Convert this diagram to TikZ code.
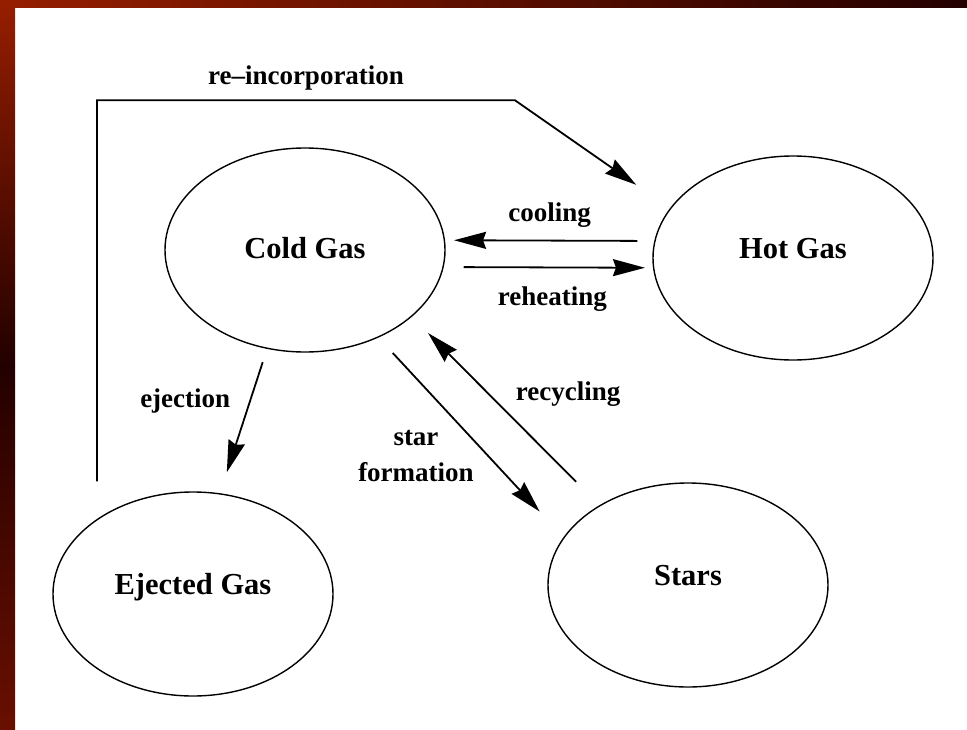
\documentclass[tikz,border=0pt]{standalone}
\usepackage{fontspec}
\setmainfont{Liberation Serif}
\usetikzlibrary{arrows.meta,positioning,shapes.geometric}
\definecolor{rimhi}{RGB}{150,30,0}
\definecolor{rimlo}{RGB}{35,0,0}
\definecolor{rimmd}{RGB}{105,15,0}

\begin{document}
\begin{tikzpicture}[
 x=1pt, y=-1pt, >={Stealth[length=32pt,width=17pt,inset=3pt]},
 state/.style={draw, ellipse, minimum width=280pt, minimum height=204pt, inner sep=0pt,
   text height=20pt, text depth=20pt, line width=1.4pt, font=\fontsize{30.5}{34}\selectfont\bfseries},
 lbl/.style={inner sep=0pt, align=center, font=\fontsize{27}{36}\selectfont\bfseries},
 flow/.style={->, line width=1.8pt}]
\useasboundingbox (0,0) rectangle (967,729);
\fill[top color=rimhi, bottom color=rimmd, middle color=rimlo] (0,0) rectangle (15,729);
\fill[left color=rimhi, right color=rimlo] (0,0) rectangle (967,7);

\node[state, text depth=4pt] (cold) at (305,250) {Cold Gas};
\node[state] (hot) at (793,258) {Hot Gas};
\node[state] (ejected) at (193,594) {Ejected Gas};
\node[state] (stars) at (688,585) {Stars};

\draw[flow, shorten <=17pt, shorten >=9pt] (hot.173) -- node[lbl, midway, above=12pt] (lcool) {cooling} (cold.4);
\draw[flow, shorten <=20pt, shorten >=8pt] (cold.-7) -- node[lbl, midway, below=18pt, xshift=4pt] (lreheat) {reheating} (hot.184);
\draw[flow, shorten <=21pt, shorten >=35pt] (cold.-50) -- node[lbl, pos=.59, left=13pt, yshift=-1pt] (lstar) {star\\formation} (stars.159);
\draw[flow, shorten <=33pt, shorten >=23pt] (stars.138.5) -- node[lbl, pos=.6, right=28pt, yshift=-2pt] (lrecyc) {recycling} (cold.-32);
\draw[flow, shorten <=14pt, shorten >=22pt] (cold.-111) -- node[lbl, pos=.36, left=19pt] (leject) {ejection} (ejected.75);
\draw[flow, shorten >=41pt] ([shift={(-96,-10)}]ejected.north) |- node[lbl, pos=.75, above=9pt] (lreinc) {re--incorporation} ++(418,-381) -- (hot.158);
\end{tikzpicture}
\end{document}
